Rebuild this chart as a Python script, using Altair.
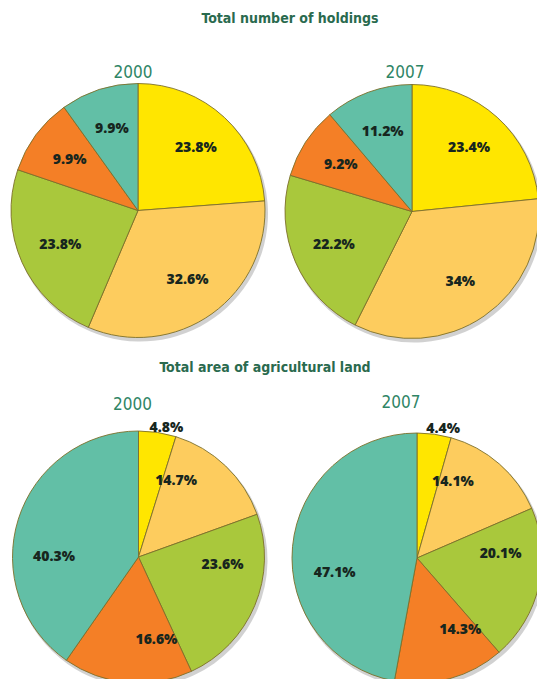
import altair as alt
import pandas as pd

# ---- data ----
categories = ["Class 1", "Class 2", "Class 3", "Class 4", "Class 5"]
colors = ["#FFE600", "#FDCC5E", "#A9C83C", "#F47F26", "#62BFA6"]

holdings_2000 = [23.8, 32.6, 23.8, 9.9, 9.9]
holdings_2007 = [23.4, 34.0, 22.2, 9.2, 11.2]
area_2000 = [4.8, 14.7, 23.6, 16.6, 40.3]
area_2007 = [4.4, 14.1, 20.1, 14.3, 47.1]

section_titles = ["Total number of holdings", "Total area of agricultural land"]
years = ["2000", "2007"]

panels = {
    "h2000": holdings_2000,
    "h2007": holdings_2007,
    "a2000": area_2000,
    "a2007": area_2007,
}

rows = []
for pid, vals in panels.items():
    for i, (c, v) in enumerate(zip(categories, vals)):
        rows.append({"panel": pid, "cat": c, "idx": i, "value": v,
                     "label": f"{v:g}%"})
df = pd.DataFrame(rows)

# ---- layout (styling only) ----
geom = {
    "h2000": (130, 202.5, 127),
    "h2007": (404, 203.5, 127),
    "a2000": (130.5, 549, 126),
    "a2007": (409, 550, 125),
}

color_scale = alt.Scale(domain=categories, range=colors)
base = alt.Chart(df)
layers = []

lab_font = "Open Sans"
lab_color = "#17261e"

for pid, (cx, cy, r) in geom.items():
    sub = base.transform_filter(alt.datum.panel == pid)
    theta = alt.Theta("value:Q", stack=True)
    order = alt.Order("idx:Q")
    shadow = sub.mark_arc(outerRadius=r + 1, color="#000000", opacity=0.18).encode(
        theta=theta, order=order,
        x=alt.value(cx + 2), y=alt.value(cy + 3),
    )
    arcs = sub.mark_arc(outerRadius=r, stroke="#7d6f2a", strokeWidth=0.9).encode(
        theta=theta,
        order=order,
        color=alt.Color("cat:N", scale=color_scale, legend=None),
        x=alt.value(cx), y=alt.value(cy),
    )
    inside = sub.transform_filter(alt.datum.value >= 6).mark_text(
        radius=r * 0.67, font=lab_font, fontWeight=800, fontSize=14,
        color=lab_color, align="center", baseline="middle",
    ).encode(
        theta=theta, order=order, text="label:N",
        x=alt.value(cx), y=alt.value(cy),
    )
    outside = sub.mark_text(
        radius=r + 7, font=lab_font, fontWeight=800, fontSize=14,
        color=lab_color, align="center", baseline="middle", dx=8, dy=2,
    ).encode(
        theta=theta, order=order, text="label:N",
        x=alt.value(cx), y=alt.value(cy),
        opacity=alt.condition(alt.datum.value < 6, alt.value(1), alt.value(0)),
    )
    layers += [shadow, arcs, inside, outside]

blank = alt.Chart(alt.Data(values=[{}]))


def label(text, x, y, size, weight, color):
    return blank.mark_text(
        font="DejaVu Sans Condensed, Liberation Sans Narrow, sans-serif",
        fontSize=size, fontWeight=weight, color=color,
        align="center", baseline="middle",
    ).encode(x=alt.value(x), y=alt.value(y), text=alt.value(text))


title_color = "#2a6a4e"
year_color = "#2f8566"
layers += [
    label(section_titles[0], 282, 11, 14, "bold", title_color),
    label(years[0], 125, 64.5, 17, "normal", year_color),
    label(years[1], 397, 64.5, 17, "normal", year_color),
    label(section_titles[1], 257, 360, 14, "bold", title_color),
    label(years[0], 124.5, 396.5, 17, "normal", year_color),
    label(years[1], 393, 394.5, 17, "normal", year_color),
]

chart = alt.layer(*layers).properties(
    width=529, height=671, padding=0,
    autosize=alt.AutoSizeParams(type="none"),
).configure_view(stroke=None)

chart.save("out.html", embed_options={"renderer": "svg", "actions": False})
